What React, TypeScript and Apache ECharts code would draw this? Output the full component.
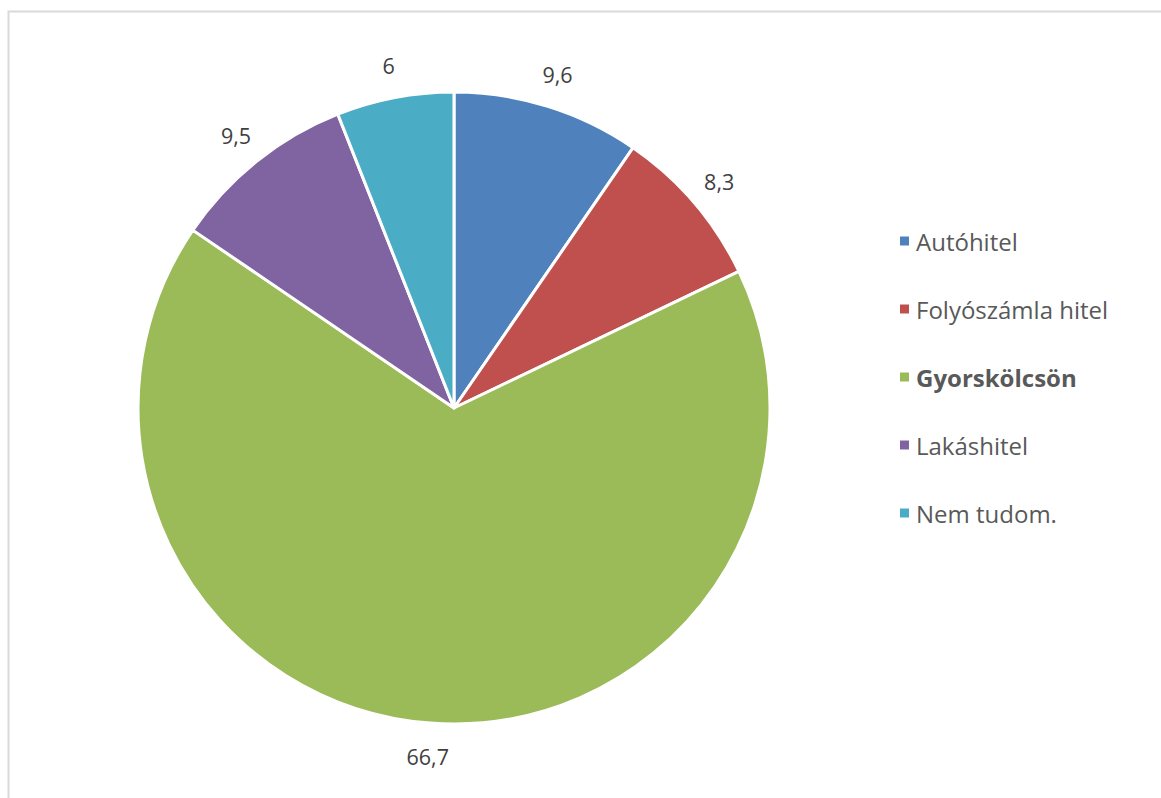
import React, { useEffect, useRef } from "react";
import * as echarts from "echarts";

const categories = ["Autóhitel", "Folyószámla hitel", "Gyorskölcsön", "Lakáshitel", "Nem tudom."];
const values = [9.6, 8.3, 66.7, 9.5, 6];
const valueLabels = ["9,6", "8,3", "66,7", "9,5", "6"];
const colors = ["#4F81BD", "#C0504D", "#9BBB59", "#8064A2", "#4BACC6"];
const boldLegend = ["Gyorskölcsön"];

export default function App() {
  const ref = useRef<HTMLDivElement>(null);
  useEffect(() => {
    if (!ref.current) return;
    const chart = echarts.init(ref.current, undefined, { renderer: "svg" });
    const font = "'Open Sans', sans-serif";
    chart.setOption({
      animation: false,
      color: colors,
      textStyle: { fontFamily: font },
      graphic: [
        {
          type: "rect",
          shape: { x: 8.5, y: 11.5, width: 1160, height: 800 },
          style: { fill: "none", stroke: "#d9d9d9", lineWidth: 2 },
          silent: true,
        },
      ],
      legend: {
        orient: "vertical",
        left: 893,
        top: 224,
        itemWidth: 11,
        itemHeight: 11,
        itemGap: 44,
        icon: "rect",
        data: categories,
        formatter: (name: string) =>
          boldLegend.includes(name) ? `{b|${name}}` : `{n|${name}}`,
        textStyle: {
          padding: [0, 0, 0, 1],
          rich: {
            n: { fontSize: 24, color: "#595959", fontFamily: font },
            b: { fontSize: 24, color: "#595959", fontWeight: "bold", fontFamily: font },
          },
        },
      },
      series: [
        {
          type: "pie",
          center: [454, 408],
          radius: [0, 316],
          startAngle: 90,
          clockwise: true,
          label: { show: false },
          labelLine: { show: false },
          itemStyle: { borderColor: "#ffffff", borderWidth: 3 },
          emphasis: { disabled: true },
          data: categories.map((c, i) => ({ name: c, value: values[i] })),
        },
        {
          type: "pie",
          center: [454, 408],
          radius: [316, 376],
          startAngle: 90,
          clockwise: true,
          silent: true,
          itemStyle: { color: "rgba(0,0,0,0)" },
          emphasis: { disabled: true },
          labelLine: { show: false },
          label: {
            show: true,
            position: "inside",
            rotate: 0,
            fontSize: 21.5,
            color: "#404040",
            fontFamily: font,
            formatter: (p: any) => valueLabels[p.dataIndex],
          },
          data: categories.map((c, i) => ({ name: c, value: values[i] })),
        },
      ],
    });
    return () => chart.dispose();
  }, []);
  return (
    <div
      ref={ref}
      style={{ position: "fixed", left: 0, top: 0, width: 1161, height: 798, background: "#fff" }}
    />
  );
}
